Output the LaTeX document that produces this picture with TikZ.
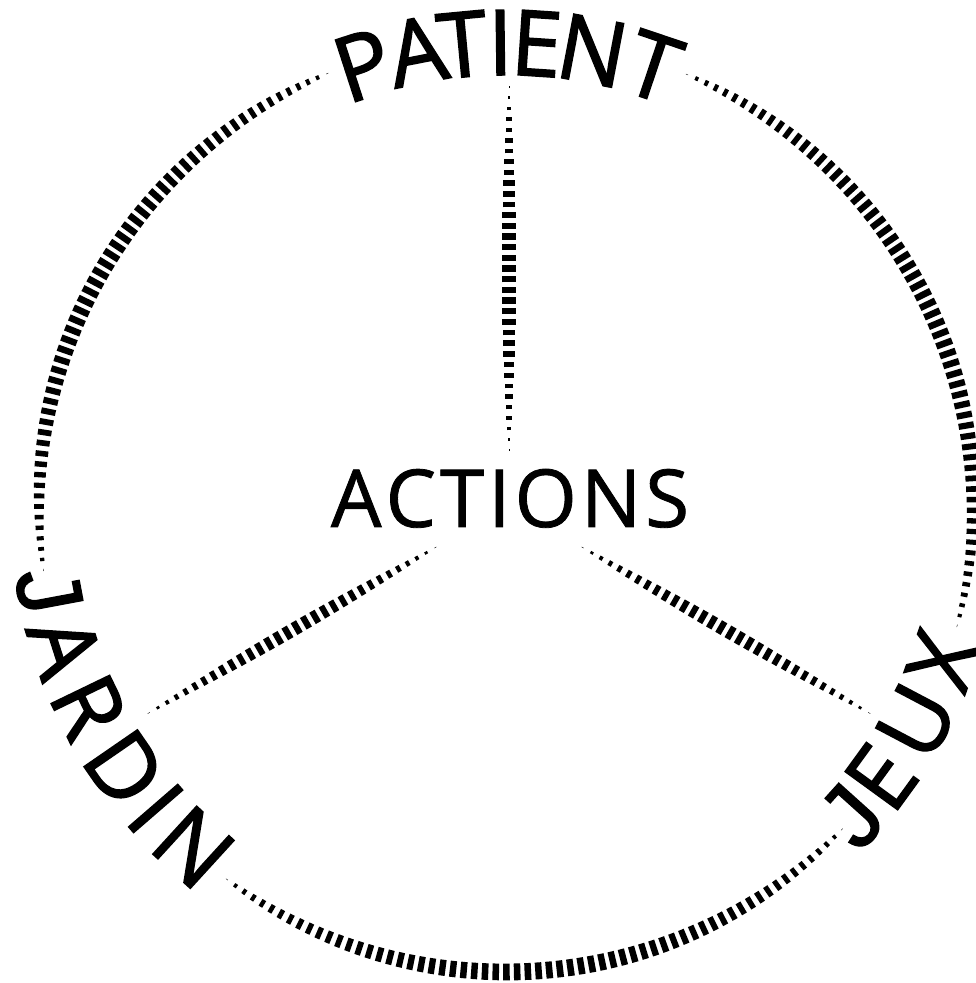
\documentclass[tikz,border=0pt]{standalone}
\usepackage{fontspec}
\setmainfont{Open Sans}
\newfontfamily\bigfont[FakeBold=1.6]{Open Sans}
\newfontfamily\midfont[FakeBold=1.0]{Open Sans}
\newfontfamily\jfont[FakeBold=1.4]{Liberation Sans}
\newcommand\myJ{{\jfont J}}
\usetikzlibrary{calc}
\tikzset{
  arcletter/.style={inner sep=0pt, anchor=base, font=\bigfont\fontsize{91pt}{91pt}\selectfont},
  centrelabel/.style={inner sep=0pt, anchor=base, font=\midfont\fontsize{80pt}{80pt}\selectfont}
}
\begin{document}
\begin{tikzpicture}
\useasboundingbox (0,0) rectangle (976pt,983pt);
\coordinate (C) at (506pt,478pt);
\coordinate (S) at (509pt,478pt);
\def\R{467}
% circle arcs with tapered dashes
\foreach \a/\b in {112.5/188, 233.3/316, 345/427.2} {
  \pgfmathsetmacro\L{(\b-\a)*pi/180*\R}
  \pgfmathtruncatemacro\N{round(\L/10.7)}
  \foreach \i in {0,...,\N} {
    \pgfmathsetmacro\t{\i/\N}
    \pgfmathsetmacro\s{sqrt(max(0,sin(180*\t)))}
    \pgfmathsetmacro\w{0.4+16.5*\s}
    \pgfmathsetmacro\h{(1.2+2.1*\s)/\R*180/pi}
    \pgfmathsetmacro\ang{\a+\t*(\b-\a)}
    \pgfmathsetmacro\aa{\ang-\h}
    \pgfmathsetmacro\ab{\ang+\h}
    \draw[line width=\w pt] ($(C)+(\aa:\R pt)$) arc[start angle=\aa, end angle=\ab, radius=\R pt];
  }
}
% spokes
\coordinate (pIn) at ($(S)+(90:55pt)$);
\coordinate (pOut) at ($(S)+(90:418pt)$);
\coordinate (jIn) at ($(S)+(210:85pt)$);
\coordinate (jOut) at ($(S)+(210:416pt)$);
\coordinate (xIn) at ($(S)+(330:85pt)$);
\coordinate (xOut) at ($(S)+(330:416pt)$);
\foreach \p/\q/\n/\wm/\len in {pIn/pOut/34/14/363, jIn/jOut/31/13/331, xIn/xOut/31/13/331} {
  \foreach \i in {0,...,\n} {
    \pgfmathsetmacro\t{\i/\n}
    \pgfmathsetmacro\s{max(0,sin(180*\t))}
    \pgfmathsetmacro\s{sqrt(\s)*0.35+\s*0.65}
    \pgfmathsetmacro\w{0.4+\wm*\s}
    \pgfmathsetmacro\d{(1.2+1.9*\s)/\len}
    \pgfmathsetmacro\ta{\t-\d}
    \pgfmathsetmacro\tb{\t+\d}
    \draw[line width=\w pt] ($(\p)!\ta!(\q)$) -- ($(\p)!\tb!(\q)$);
  }
}
% centre label
\node[centrelabel] (actions) at (510pt,456pt) {A\kern4pt C\kern4pt T\kern4pt I\kern4pt O\kern4pt N\kern4pt S};
% labels along the circle
\foreach \ch/\ang [count=\k] in {P/108.0, A/101.1, T/95.4, I/90.7, E/86.2, N/79.2, T/71.4}
  \node[arcletter, rotate=\ang-90] (pat\k) at ($(C)+(\ang:430pt)$) {\ch};
\foreach \ch/\ang [count=\k] in {\myJ/190.6, A/197.8, R/205.8, D/214.6, I/220.9, N/227.6}
  \node[arcletter, rotate=\ang+90] (jar\k) at ($(C)+(\ang:496pt)$) {\ch};
\foreach \ch/\ang [count=\k] in {\myJ/318.0, E/324.0, U/332.2, X/340.4}
  \node[arcletter, rotate=\ang+90] (jeu\k) at ($(C)+(\ang:496pt)$) {\ch};
\end{tikzpicture}
\end{document}
